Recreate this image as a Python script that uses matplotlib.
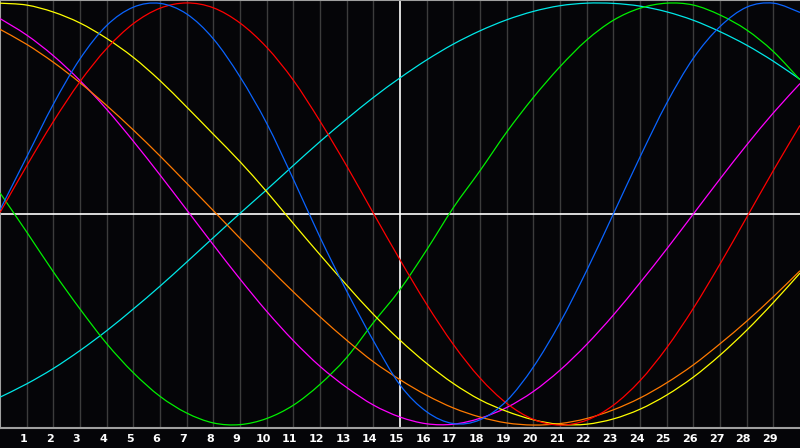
import numpy as np
import matplotlib
matplotlib.use("Agg")
import matplotlib.pyplot as plt
import matplotlib.transforms as mtransforms
from matplotlib.path import Path
from matplotlib.patches import PathPatch

# values, one per grid step (x = 0..30)
x = np.arange(0, 31)

yellow = [0.999, 0.99, 0.957, 0.905, 0.832, 0.742, 0.632, 0.507, 0.378, 0.248, 0.106,
          -0.045, -0.193, -0.337, -0.475, -0.598, -0.708, -0.803, -0.88, -0.935, -0.975,
          -0.997, -0.996, -0.971, -0.925, -0.858, -0.773, -0.669, -0.551, -0.42, -0.28]
orange = [0.875, 0.804, 0.719, 0.622, 0.514, 0.398, 0.275, 0.146, 0.016, -0.115, -0.244,
          -0.369, -0.487, -0.598, -0.7, -0.785, -0.859, -0.919, -0.962, -0.99, -1.0,
          -0.993, -0.969, -0.928, -0.872, -0.8, -0.715, -0.615, -0.508, -0.392, -0.269]
magenta = [0.926, 0.848, 0.75, 0.632, 0.496, 0.345, 0.185, 0.02, -0.146, -0.308, -0.461,
           -0.6, -0.722, -0.822, -0.905, -0.962, -0.994, -0.996, -0.968, -0.917, -0.841,
           -0.74, -0.618, -0.479, -0.326, -0.166, 0.0, 0.166, 0.327, 0.479, 0.618]
cyan = [-0.868, -0.805, -0.732, -0.647, -0.553, -0.45, -0.342, -0.228, -0.112, 0.003, 0.115,
        0.23, 0.343, 0.45, 0.552, 0.645, 0.73, 0.805, 0.868, 0.92, 0.96,
        0.987, 0.999, 0.998, 0.985, 0.958, 0.918, 0.864, 0.8, 0.724, 0.638]
green = [0.1, -0.085, -0.274, -0.45, -0.614, -0.752, -0.864, -0.943, -0.99, -0.998, -0.969,
         -0.906, -0.807, -0.68, -0.515, -0.358, -0.17, 0.03, 0.205, 0.388, 0.552,
         0.698, 0.824, 0.918, 0.975, 0.999, 0.99, 0.943, 0.872, 0.77, 0.636]
red = [0.007, 0.228, 0.438, 0.627, 0.784, 0.902, 0.975, 1.0, 0.977, 0.905, 0.79,
       0.634, 0.44, 0.228, 0.004, -0.217, -0.428, -0.618, -0.777, -0.897, -0.973,
       -1.0, -0.977, -0.906, -0.79, -0.634, -0.447, -0.237, -0.016, 0.206, 0.42]
blue = [0.02, 0.27, 0.52, 0.735, 0.893, 0.98, 0.998, 0.948, 0.83, 0.65, 0.43,
        0.165, -0.11, -0.365, -0.6, -0.81, -0.937, -0.993, -0.975, -0.885, -0.725,
        -0.515, -0.268, 0.0, 0.27, 0.525, 0.738, 0.888, 0.98, 0.999, 0.955]

tick_vals = list(range(1, 30))
tick_labels = [str(t) for t in tick_vals]

series = [
    (cyan, "#00e8e8"),
    (green, "#00f000"),
    (magenta, "#ff00ff"),
    (orange, "#ff7a00"),
    (yellow, "#ffff00"),
    (red, "#ff0000"),
    (blue, "#0a64ff"),
]


def smooth_path(xs, ys):
    # Catmull-Rom spline through the points, drawn as cubic Bezier segments
    p = np.column_stack([xs, ys]).astype(float)
    ext = np.vstack([p[0], p, p[-1]])
    verts = [p[0]]
    codes = [Path.MOVETO]
    for i in range(len(p) - 1):
        p0, p1, p2, p3 = ext[i], ext[i + 1], ext[i + 2], ext[i + 3]
        verts += [p1 + (p2 - p0) / 6, p2 - (p3 - p1) / 6, p2]
        codes += [Path.CURVE4] * 3
    return Path(verts, codes)


fig = plt.figure(figsize=(8, 4.48), dpi=100, facecolor="#050508")
ax = fig.add_axes([0, 20 / 448, 1, 428 / 448])
ax.set_facecolor("#050508")

# grid lines
for t in tick_vals:
    if t == 15:
        continue
    ax.axvline(t, color="#3c3c3c", lw=1.0, zorder=1)
ax.axvline(15, color="white", lw=1.2, zorder=2)
ax.axhline(0, color="white", lw=1.2, zorder=2)

for vals, col in series:
    ax.add_patch(PathPatch(smooth_path(x, vals), facecolor="none",
                           edgecolor=col, lw=0.9, zorder=3))

ax.set_xlim(0, 30)
ax.set_ylim(-1.014, 1.014)

for side in ["left", "top", "bottom"]:
    ax.spines[side].set_color("#a0a0a0")
    ax.spines[side].set_linewidth(1.5)
ax.spines["right"].set_visible(False)

ax.set_yticks([])
ax.set_xticks(tick_vals)
ax.set_xticklabels(tick_labels, color="white", fontsize=8, fontweight="bold")
ax.tick_params(axis="x", length=0, pad=4)
offset = mtransforms.ScaledTranslation(-3.5 / 100, 0, fig.dpi_scale_trans)
for lab in ax.get_xticklabels():
    lab.set_transform(lab.get_transform() + offset)

fig.savefig("out.png", dpi=100, facecolor=fig.get_facecolor())
